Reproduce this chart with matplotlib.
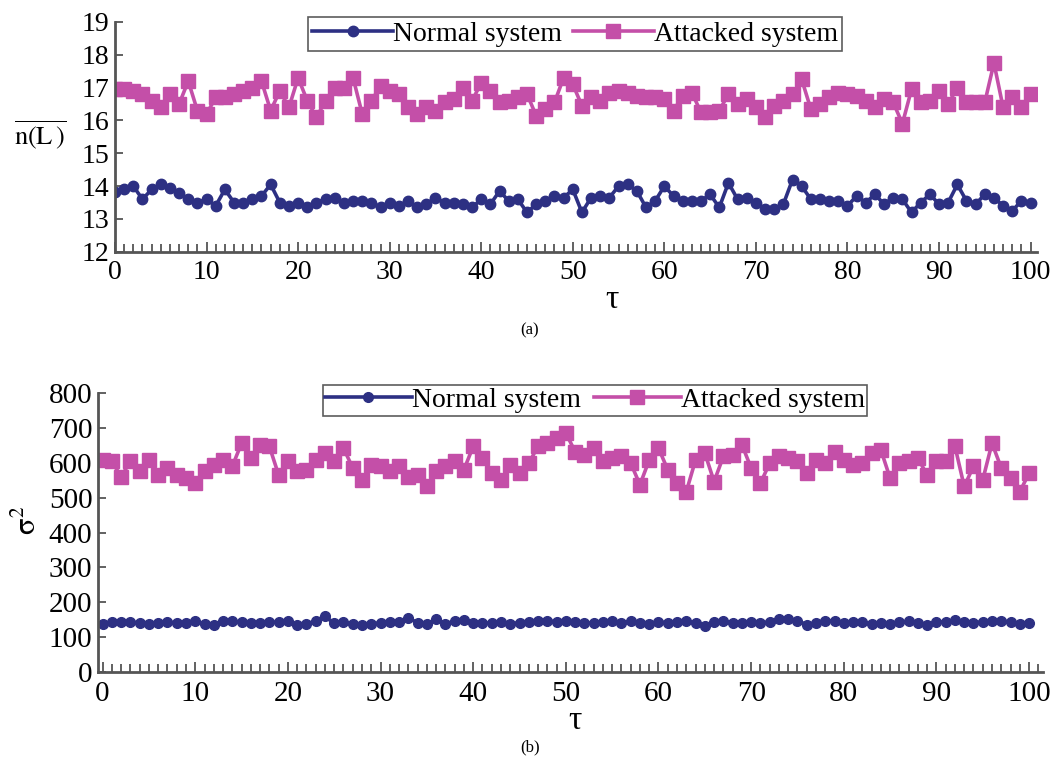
import numpy as np
import matplotlib
matplotlib.use('Agg')
import matplotlib.pyplot as plt
from matplotlib.ticker import MultipleLocator

plt.rcParams['font.family'] = ['Liberation Serif', 'DejaVu Serif']
plt.rcParams['mathtext.fontset'] = 'stix'

# 数据
tau = np.arange(0, 101)

normal_a = [13.83, 13.9, 14.0, 13.6, 13.9, 14.05, 13.95, 13.8, 13.6, 13.5,
            13.6, 13.4, 13.9, 13.5, 13.5, 13.6, 13.7, 14.05, 13.5, 13.4,
            13.5, 13.35, 13.5, 13.6, 13.65, 13.5, 13.55, 13.55, 13.5, 13.35,
            13.5, 13.4, 13.55, 13.35, 13.45, 13.65, 13.5, 13.5, 13.45, 13.35,
            13.6, 13.45, 13.85, 13.55, 13.6, 13.2, 13.45, 13.55, 13.7, 13.65,
            13.9, 13.2, 13.65, 13.7, 13.65, 14.0, 14.05, 13.85, 13.35, 13.55,
            14.0, 13.7, 13.55, 13.55, 13.55, 13.75, 13.35, 14.1, 13.6, 13.65,
            13.5, 13.3, 13.3, 13.45, 14.2, 14.0, 13.6, 13.6, 13.55, 13.55,
            13.4, 13.7, 13.5, 13.75, 13.45, 13.65, 13.6, 13.2, 13.5, 13.75,
            13.45, 13.5, 14.05, 13.55, 13.45, 13.75, 13.65, 13.4, 13.25, 13.55,
            13.5]
attacked_a = [16.97, 16.95, 16.9, 16.8, 16.6, 16.4, 16.8, 16.5, 17.2, 16.3,
              16.2, 16.7, 16.7, 16.8, 16.9, 17.0, 17.2, 16.3, 16.9, 16.4,
              17.3, 16.6, 16.1, 16.6, 17.0, 17.0, 17.3, 16.2, 16.6, 17.05,
              16.9, 16.8, 16.4, 16.2, 16.4, 16.3, 16.55, 16.65, 17.0, 16.6,
              17.15, 16.9, 16.55, 16.6, 16.7, 16.8, 16.15, 16.35, 16.55, 17.3,
              17.1, 16.45, 16.7, 16.6, 16.85, 16.9, 16.85, 16.75, 16.7, 16.7,
              16.65, 16.3, 16.75, 16.85, 16.25, 16.25, 16.3, 16.8, 16.5, 16.65,
              16.4, 16.1, 16.45, 16.6, 16.8, 17.25, 16.35, 16.5, 16.7, 16.85,
              16.8, 16.75, 16.6, 16.4, 16.65, 16.55, 15.9, 16.95, 16.55, 16.6,
              16.9, 16.5, 17.0, 16.55, 16.55, 16.55, 17.75, 16.4, 16.7, 16.4,
              16.8]

normal_b = [138, 145, 145, 143, 142, 138, 140, 145, 140, 142,
            148, 138, 135, 146, 147, 143, 140, 141, 144, 143,
            146, 136, 137, 148, 160, 140, 143, 138, 134, 138,
            142, 144, 143, 155, 142, 138, 152, 137, 148, 149,
            140, 141, 141, 143, 139, 142, 143, 146, 148, 144,
            146, 143, 142, 140, 144, 146, 140, 148, 142, 138,
            145, 141, 144, 147, 140, 133, 145, 146, 142, 141,
            143, 140, 145, 151, 152, 148, 136, 142, 148, 146,
            140, 143, 145, 139, 141, 137, 143, 146, 142, 134,
            145, 143, 150, 143, 141, 145, 146, 147, 144, 138,
            142]
attacked_b = [608, 604, 560, 604, 575, 608, 565, 585, 565, 556,
              541, 575, 594, 608, 590, 656, 613, 652, 647, 565,
              604, 575, 580, 608, 628, 604, 642, 585, 551, 594,
              590, 575, 590, 560, 565, 532, 575, 590, 604, 580,
              647, 613, 570, 551, 594, 570, 599, 647, 656, 671,
              685, 632, 623, 642, 604, 613, 618, 599, 537, 608,
              642, 580, 541, 517, 608, 628, 546, 618, 623, 652,
              585, 541, 599, 618, 613, 604, 570, 608, 599, 632,
              608, 594, 599, 628, 637, 556, 599, 604, 613, 565,
              604, 604, 647, 532, 590, 551, 656, 585, 556, 517,
              570]

navy = '#2d3083'
pink = '#c44fa8'
spine_c = '#555555'

fig = plt.figure(figsize=(10.58, 7.63), dpi=100)
ax1 = fig.add_axes([0.1087, 0.6700, 0.8710, 0.3012])
ax2 = fig.add_axes([0.0926, 0.1190, 0.8932, 0.3660])


def style(ax, ylim, ystep, xlim, fs):
    ax.set_xlim(*xlim)
    ax.set_ylim(*ylim)
    ax.yaxis.set_major_locator(MultipleLocator(ystep))
    ax.xaxis.set_major_locator(MultipleLocator(10))
    ax.xaxis.set_minor_locator(MultipleLocator(1))
    for s in ['top', 'right']:
        ax.spines[s].set_visible(False)
    for s in ['left', 'bottom']:
        ax.spines[s].set_color(spine_c)
        ax.spines[s].set_linewidth(2.0)
    ax.tick_params(axis='both', which='both', direction='in', color=spine_c,
                   width=1.3, labelsize=fs)
    ax.tick_params(axis='y', which='major', length=6, pad=4)
    ax.tick_params(axis='x', which='major', length=7, pad=6)
    ax.tick_params(axis='x', which='minor', length=6)


# (a)
ax1.plot(tau, normal_a, '-o', color=navy, lw=2.6, ms=7.5, label='Normal system')
ax1.plot(tau, attacked_a, '-s', color=pink, lw=2.6, ms=10, label='Attacked system')
style(ax1, (12, 19), 1, (0, 100.65), 20)
leg1 = fig.legend(*ax1.get_legend_handles_labels(), loc='upper center',
                  bbox_to_anchor=(0.5435, 0.9775), ncol=2, numpoints=1,
                  fontsize=20, frameon=True, fancybox=False, edgecolor='#333333',
                  handlelength=2.9, handletextpad=0.0, columnspacing=0.4,
                  borderpad=0.15, borderaxespad=0.0)
leg1.get_frame().set_linewidth(1.2)
fig.text(0.0378, 0.823, r'$\overline{\mathrm{n(L\,)}}$', fontsize=19,
         ha='center', va='center')
fig.text(0.578, 0.607, 'τ', fontsize=24, ha='center', va='center')
fig.text(0.501, 0.567, '(a)', fontsize=12, ha='center', va='center')

# (b)
ax2.plot(tau, normal_b, '-o', color=navy, lw=2.6, ms=7, label='Normal system')
ax2.plot(tau, attacked_b, '-s', color=pink, lw=2.6, ms=9.5, label='Attacked system')
style(ax2, (0, 800), 100, (-0.5, 101.5), 21)
leg2 = fig.legend(*ax2.get_legend_handles_labels(), loc='upper center',
                  bbox_to_anchor=(0.5624, 0.4955), ncol=2, numpoints=1,
                  fontsize=20, frameon=True, fancybox=False, edgecolor='#333333',
                  handlelength=3.1, handletextpad=0.0, columnspacing=0.5,
                  borderpad=0.1, borderaxespad=0.0)
leg2.get_frame().set_linewidth(1.2)
fig.text(0.0265, 0.318, r'$\mathrm{\sigma}^2$', fontsize=22, rotation=90,
         ha='center', va='center')
fig.text(0.5435, 0.056, 'τ', fontsize=24, ha='center', va='center')
fig.text(0.501, 0.020, '(b)', fontsize=12, ha='center', va='center')

fig.savefig('out.png', dpi=100)
